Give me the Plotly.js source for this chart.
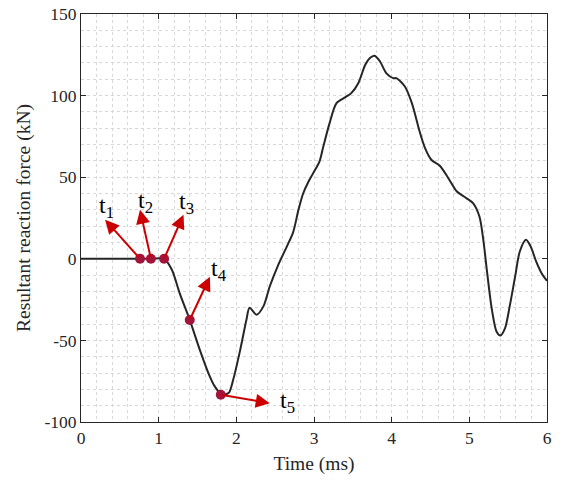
<!DOCTYPE html>
<html>
<head>
<meta charset="utf-8">
<script src="https://cdn.plot.ly/plotly-3.0.1.min.js"></script>
<style>html,body{margin:0;padding:0;background:#fff;}#chart{width:562px;height:482px;}</style>
</head>
<body>
<div id="chart"></div>
<script>
// Curve: time (ms) and resultant reaction force (kN)
const timeMs = [0, 0.5, 0.9, 1.07, 1.17, 1.27, 1.40, 1.53, 1.64, 1.72, 1.81, 1.90, 1.96, 2.05, 2.13, 2.17, 2.26, 2.35, 2.43, 2.54, 2.65, 2.73, 2.80, 2.86, 2.93, 2.99, 3.07, 3.12, 3.20, 3.29, 3.40, 3.48, 3.57, 3.66, 3.72, 3.78, 3.85, 3.93, 4.02, 4.06, 4.17, 4.26, 4.36, 4.43, 4.51, 4.62, 4.73, 4.84, 4.96, 5.05, 5.13, 5.18, 5.23, 5.29, 5.35, 5.40, 5.46, 5.52, 5.59, 5.65, 5.73, 5.79, 5.86, 5.93, 6.0];
const forceKN = [0, 0, 0, 0, -6.7, -21, -37.4, -55.8, -70, -78, -83, -82.3, -74, -55.8, -37.4, -30, -34.3, -29, -17, -3.7, 7.5, 16, 30, 40, 47.4, 52.5, 59.6, 68.8, 83, 95.4, 98.9, 101.5, 107.6, 118.9, 123, 124.4, 120.9, 113.8, 110.7, 110.7, 105.6, 95.4, 78, 67.8, 60.7, 57, 49.4, 41.2, 37.2, 34, 25.9, 11.6, -8.8, -31, -44.5, -47, -42.5, -29, -10.8, 4.5, 11.6, 7.5, -1.6, -8.8, -13.5];

// Marked instants t1..t5
const markLabels = ["t<sub>1</sub>", "t<sub>2</sub>", "t<sub>3</sub>", "t<sub>4</sub>", "t<sub>5</sub>"];
const markT = [0.76, 0.90, 1.07, 1.40, 1.80];
const markF = [0, 0, 0, -37.5, -83.3];
// Arrow tips
const tipT = [0.31, 0.76, 1.32, 1.66, 2.43];
const tipF = [24, 30, 27, -11, -88.5];
// Label anchor positions
const labT = [0.33, 0.83, 1.36, 1.78, 2.66];
const labF = [32, 35, 34, -7, -88];

// Axis ticks
const xTickVals = [0, 1, 2, 3, 4, 5, 6];
const xTickText = ["0", "1", "2", "3", "4", "5", "6"];
const yTickVals = [-100, -50, 0, 50, 100, 150];
const yTickText = ["-100", "-50", "0", "50", "100", "150"];

const serif = "Liberation Serif, Times New Roman, serif";

const traces = [
  {x: timeMs, y: forceKN, type: "scatter", mode: "lines",
   line: {color: "#262626", width: 2, shape: "spline", smoothing: 0.8},
   hoverinfo: "skip", showlegend: false},
  {x: markT, y: markF, type: "scatter", mode: "markers",
   marker: {color: "#a3143a", size: 10}, showlegend: false}
];

const annotations = [];
for (let i = 0; i < markT.length; i++) {
  annotations.push({
    x: tipT[i], y: tipF[i], xref: "x", yref: "y",
    ax: markT[i], ay: markF[i], axref: "x", ayref: "y",
    text: "", showarrow: true, arrowhead: 2, arrowsize: 1.4, arrowwidth: 2,
    arrowcolor: "#cc0000", standoff: 0, startstandoff: 0
  });
  annotations.push({
    x: labT[i], y: labF[i], xref: "x", yref: "y",
    text: markLabels[i], showarrow: false,
    font: {family: serif, size: 24, color: "#000"}
  });
}

const gridCol = "#d8d8d8";
const layout = {
  width: 562, height: 482,
  margin: {l: 81, r: 15, t: 14, b: 60},
  paper_bgcolor: "#fff", plot_bgcolor: "#fff",
  font: {family: serif, size: 17.5, color: "#262626"},
  showlegend: false,
  xaxis: {
    range: [0, 6], tickvals: xTickVals, ticktext: xTickText,
    showline: true, linecolor: "#262626", linewidth: 1, mirror: "ticks",
    ticks: "inside", ticklen: 5, tickcolor: "#262626",
    showgrid: true, gridcolor: gridCol, griddash: "dot", gridwidth: 1,
    minor: {dtick: 0.2, showgrid: true, gridcolor: gridCol, griddash: "dot", gridwidth: 1},
    zeroline: false,
    title: {text: "Time (ms)", font: {family: serif, size: 19.5, color: "#262626"}, standoff: 9}
  },
  yaxis: {
    range: [-100, 150], tickvals: yTickVals, ticktext: yTickText,
    showline: true, linecolor: "#262626", linewidth: 1, mirror: "ticks",
    ticks: "inside", ticklen: 5, tickcolor: "#262626",
    showgrid: true, gridcolor: gridCol, griddash: "dot", gridwidth: 1,
    minor: {dtick: 10, showgrid: true, gridcolor: gridCol, griddash: "dot", gridwidth: 1},
    zeroline: false,
    title: {text: "Resultant reaction force (kN)", font: {family: serif, size: 19.5, color: "#262626"}, standoff: 8}
  },
  annotations: annotations
};

Plotly.newPlot("chart", traces, layout, {staticPlot: true, displayModeBar: false});
</script>
</body>
</html>
